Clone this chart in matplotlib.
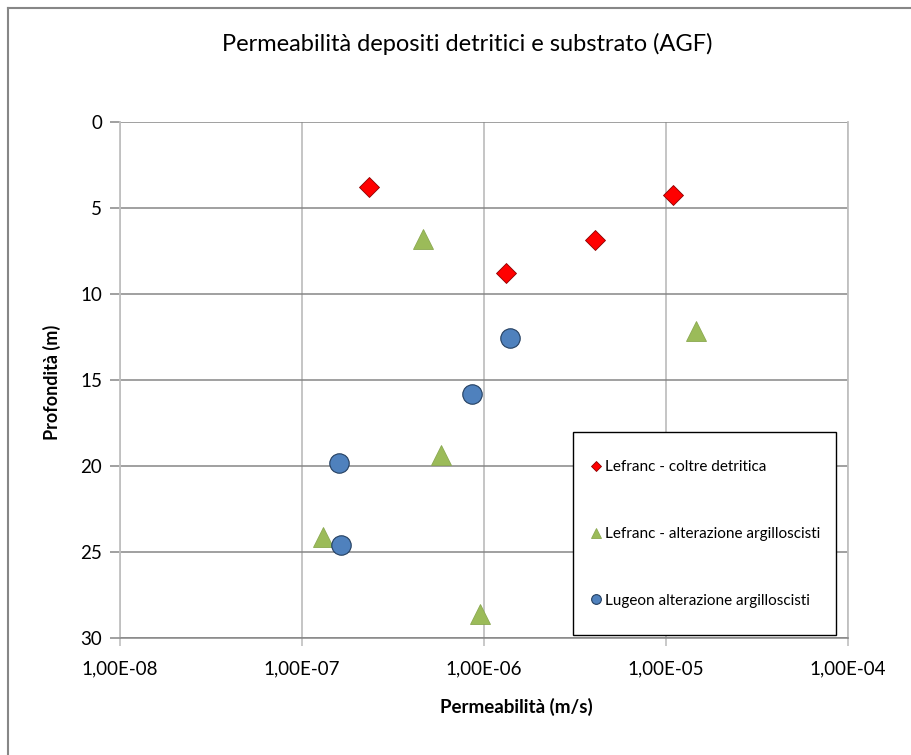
import matplotlib
matplotlib.use("Agg")
import matplotlib.pyplot as plt
from matplotlib.lines import Line2D
from matplotlib.patches import Rectangle

plt.rcParams['font.family'] = ['Lato', 'DejaVu Sans']

title = "Permeabilità depositi detritici e substrato (AGF)"
xlabel = "Permeabilità (m/s)"
ylabel = "Profondità (m)"

lefranc_coltre_k = [2.33e-7, 1.09e-5, 4.07e-6, 1.32e-6]
lefranc_coltre_z = [3.78, 4.24, 6.86, 8.78]

lefranc_alt_k = [4.62e-7, 1.46e-5, 5.8e-7, 1.30e-7, 9.5e-7]
lefranc_alt_z = [6.8, 12.15, 19.36, 24.1, 28.6]

lugeon_k = [1.39e-6, 8.6e-7, 1.6e-7, 1.64e-7]
lugeon_z = [12.56, 15.81, 19.83, 24.6]

x_ticks = [1e-8, 1e-7, 1e-6, 1e-5, 1e-4]
x_ticklabels = ["1,00E-08", "1,00E-07", "1,00E-06", "1,00E-05", "1,00E-04"]
y_ticks = [0, 5, 10, 15, 20, 25, 30]

labels = ["Lefranc - coltre detritica",
          "Lefranc - alterazione argilloscisti",
          "Lugeon alterazione argilloscisti"]

W, H = 912, 755
fig = plt.figure(figsize=(W/100, H/100), dpi=100)
fig.patch.set_facecolor('white')
# outer chart border (only left and top visible)
fig.add_artist(Line2D([8.5/W, 8.5/W], [0, 1-7.5/H], transform=fig.transFigure,
                      color='#878787', linewidth=1.5))
fig.add_artist(Line2D([8.5/W, 1], [1-7.5/H, 1-7.5/H], transform=fig.transFigure,
                      color='#878787', linewidth=1.5))

ax = fig.add_axes([120/W, 1-638/H, 728/W, 516/H])
ax.set_xscale('log')
ax.set_xlim(1e-8, 1e-4)
ax.set_ylim(30, 0)

ax.plot(lefranc_coltre_k, lefranc_coltre_z, linestyle='none', marker='D', markersize=10,
        markerfacecolor='#FF0000', markeredgecolor='#8B0000', markeredgewidth=0.6,
        label=labels[0], zorder=3)
ax.plot(lefranc_alt_k, lefranc_alt_z, linestyle='none', marker='^', markersize=15,
        markerfacecolor='#9BBB59', markeredgecolor='#8AA850', markeredgewidth=0.6,
        label=labels[1], zorder=3)
ax.plot(lugeon_k, lugeon_z, linestyle='none', marker='o', markersize=14,
        markerfacecolor='#4F81BD', markeredgecolor='#243F60', markeredgewidth=0.8,
        label=labels[2], zorder=3)

ax.set_xticks(x_ticks)
ax.set_xticklabels(x_ticklabels, fontsize=13.5)
ax.minorticks_off()
ax.set_yticks(y_ticks)
ax.set_yticklabels([str(v) for v in y_ticks], fontsize=13.5)
ax.tick_params(axis='x', direction='out', length=6, color='#c0c0c0', width=1.2, pad=10)
ax.tick_params(axis='y', direction='out', length=7, color='#868686', width=1.1, pad=6)

ax.xaxis.grid(True, color='#c0c0c0', linewidth=1.3)
ax.yaxis.grid(True, color='#868686', linewidth=1.1)
ax.set_axisbelow(True)
ax.spines['top'].set_visible(False)
ax.spines['right'].set_color('#c0c0c0')
ax.spines['right'].set_linewidth(1.3)
ax.spines['left'].set_color('#c0c0c0')
ax.spines['left'].set_linewidth(1.3)
ax.spines['bottom'].set_color('#868686')
ax.spines['bottom'].set_linewidth(1.1)

fig.text(467/W, 1-44/H, title, fontsize=17, ha='center', va='center')
fig.text(516/W, 1-707/H, xlabel, fontsize=13.5, fontweight='bold', ha='center', va='center')
fig.text(52/W, 1-382/H, ylabel, fontsize=13, fontweight='bold', ha='center', va='center',
         rotation=90)

# legend box
ax.add_patch(Rectangle(((573-120)/728, (638-635)/516), 263/728, 203/516,
                       transform=ax.transAxes, facecolor='white', edgecolor='black',
                       linewidth=1.0, zorder=4))
leg = ax.legend(loc='center left', bbox_to_anchor=((590-120)/728, (638-534)/516),
                fontsize=11, markerscale=0.5, labelspacing=3.45,
                borderpad=0, handlelength=0.8, handletextpad=0.2,
                frameon=False, borderaxespad=0)
leg.set_zorder(5)

fig.savefig("out.png", dpi=100, facecolor='white')
